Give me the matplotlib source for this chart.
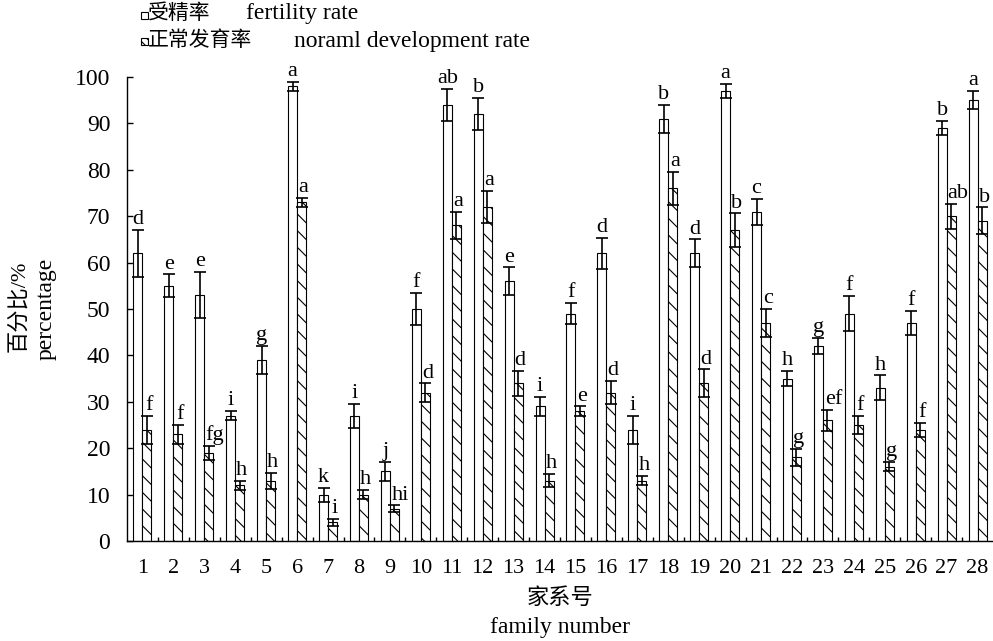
import matplotlib
matplotlib.use("Agg")
import matplotlib.pyplot as plt
from matplotlib.patches import Rectangle
import numpy as np

plt.rcParams['font.family'] = ['Liberation Serif', 'Noto Sans CJK SC']
plt.rcParams['hatch.linewidth'] = 0.8

families = [str(i) for i in range(1, 29)]
fertility = [62, 55, 53, 27, 39, 98, 10, 27, 15, 50, 94, 92, 56, 29, 49, 62, 24, 91,
             62, 97, 71, 35, 42, 49, 33, 47, 89, 95]
fertility_err = [5, 2.5, 5, 1, 3, 1, 1.5, 2.6, 2, 3.5, 3.5, 3.5, 3, 2, 2.3, 3.3, 3, 3,
                 3, 1.5, 2.8, 1.6, 1.8, 3.8, 2.7, 2.6, 1.6, 2]
fertility_sig = ['d', 'e', 'e', 'i', 'g', 'a', 'k', 'i', 'j', 'f', 'ab', 'b', 'e', 'i', 'f', 'd', 'i', 'b',
                 'd', 'a', 'c', 'h', 'g', 'f', 'h', 'f', 'b', 'a']
development = [24, 23, 19, 12, 13, 73, 4, 10, 7, 32, 68, 72, 34, 13, 28, 32, 13, 76,
               34, 67, 47, 18, 26, 25, 16, 24, 70, 69]
development_err = [3, 2, 1.5, 1, 1.7, 1, 0.7, 1, 0.7, 2, 3, 3.5, 2.7, 1.4, 1, 2.5, 1, 3.5,
                   3, 3.6, 3, 1.8, 2.2, 2, 1, 1.5, 2.7, 2.9]
development_sig = ['f', 'f', 'fg', 'h', 'h', 'a', 'i', 'h', 'hi', 'd', 'a', 'a', 'd', 'h', 'e', 'd', 'h', 'a',
                   'd', 'b', 'c', 'g', 'ef', 'f', 'g', 'f', 'ab', 'b']

W, H = 993, 641
fig = plt.figure(figsize=(W / 100, H / 100), dpi=100)
ax = fig.add_axes([127 / W, 1 - 541 / H, 1 - 127 / W, (541 - 77) / H])

x = np.arange(1, len(families) + 1)
bw = 0.29
err_kw = dict(ecolor='black', elinewidth=1.2, capsize=4.3, capthick=1.2)
ax.bar(x - bw / 2, fertility, bw, color='white', edgecolor='black', linewidth=0.8,
       yerr=fertility_err, error_kw=err_kw, zorder=2)
ax.bar(x + bw / 2, development, bw, color='white', edgecolor='black', linewidth=0.8,
       hatch='\\\\', yerr=development_err, error_kw=err_kw, zorder=2)

for xi, v, e, s in zip(x, fertility, fertility_err, fertility_sig):
    ax.annotate(s, (xi - bw / 2, v + e), xytext=(0, 0.5), textcoords='offset points',
                ha='center', va='bottom', fontsize=16)
for xi, v, e, s in zip(x, development, development_err, development_sig):
    dx = 4.5 if len(s) > 1 else 1.5
    ax.annotate(s, (xi + bw / 2, v + e), xytext=(dx, 0.5), textcoords='offset points',
                ha='center', va='bottom', fontsize=16)

ax.set_xlim(0.5, 28.5)
ax.set_ylim(0, 100)
ax.set_yticks(np.arange(0, 101, 10))
ax.set_xticks(x)
ax.set_xticklabels(families)
ax.set_xticks(np.arange(1.5, 28.5, 1), minor=True)
ax.tick_params(axis='x', which='major', length=0, pad=13, labelsize=16)
ax.tick_params(axis='x', which='minor', direction='in', length=3, width=1)
ax.tick_params(axis='y', direction='in', length=4.3, width=1, pad=12, labelsize=17)
for sp in ['top', 'right']:
    ax.spines[sp].set_visible(False)
for sp in ['left', 'bottom']:
    ax.spines[sp].set_linewidth(1.0)
ax.patch.set_alpha(0)

cjk = dict(fontweight='light')
# axis titles
fig.text(19 / W, 1 - 306 / H, '百分比/%', rotation=90, ha='center', va='center', fontsize=16, **cjk)
fig.text(46 / W, 1 - 309 / H, 'percentage', rotation=90, ha='center', va='center', fontsize=17)
fig.text(560 / W, 1 - 599 / H, '家系号', ha='center', va='center', fontsize=16, **cjk)
fig.text(560 / W, 1 - 627 / H, 'family number', ha='center', va='center', fontsize=17)

# legend (drawn manually)
fig.add_artist(Rectangle((141 / W, 1 - 18.5 / H), 7 / W, 7 / H, transform=fig.transFigure,
                         facecolor='white', edgecolor='black', linewidth=0.8))
fig.add_artist(Rectangle((141 / W, 1 - 45 / H), 7 / W, 7 / H, transform=fig.transFigure,
                         facecolor='white', edgecolor='black', linewidth=0.8, hatch='\\\\\\\\'))
fig.text(148 / W, 1 - 14 / H, '受精率', ha='left', va='center', fontsize=15, **cjk)
fig.text(246 / W, 1 - 14 / H, 'fertility rate', ha='left', va='center', fontsize=17)
fig.text(148 / W, 1 - 41 / H, '正常发育率', ha='left', va='center', fontsize=15, **cjk)
fig.text(294 / W, 1 - 41 / H, 'noraml development rate', ha='left', va='center', fontsize=17)

fig.savefig('out.png', dpi=100)
